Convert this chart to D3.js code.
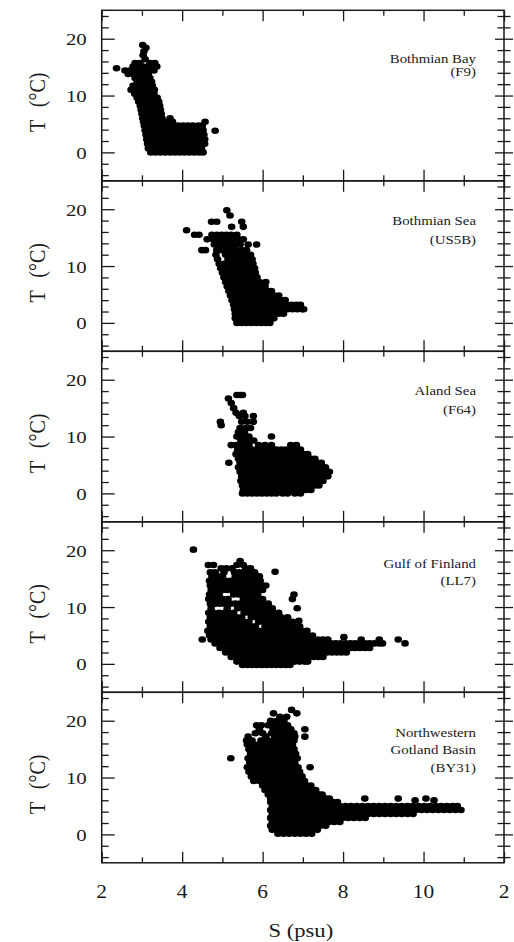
<!DOCTYPE html>
<html>
<head>
<meta charset="utf-8">
<script src="https://cdn.jsdelivr.net/npm/d3@7"></script>
<style>
  html, body { margin: 0; padding: 0; background: #fff; }
  svg { display: block; }
</style>
</head>
<body>
<svg id="chart" width="514" height="942"></svg>
<script>
// ---- axes ----
const sDomain = [2, 12];
const tDomain = [-5, 25];
const sMinorTicks = [3, 5, 7, 9, 11];
const sMajorTicks = [2, 4, 6, 8, 10, 12];
const sTickLabels = ["2", "4", "6", "8", "10", "2"];
const tMinorTicks = [-4, -2, 2, 4, 6, 8, 12, 14, 16, 18, 22, 24];
const tMajorTicks = [0, 10, 20];
const tTickLabels = ["0", "10", "20"];
const yTitle = "T (°C)";
const xTitle = "S (psu)";

// ---- stations ----
const stationNames = [
  ["Bothmian Bay", "(F9)"],
  ["Bothmian Sea", "(US5B)"],
  ["Aland Sea", "(F64)"],
  ["Gulf of Finland", "(LL7)"],
  ["Northwestern", "Gotland Basin", "(BY31)"]
];

// ---- observations: each row is [T (°C), S (psu), S (psu), ...] ----
const bothnianBay = [
  [18.9, 3.02],
  [18.4, 3.10],
  [17.8, 3.05],
  [17.1, 3.03],
  [16.4, 3.08],
  [15.7, 2.83, 2.95, 3.20, 3.32],
  [15.1, 2.78, 2.90, 3.02, 3.14, 3.27, 3.37],
  [14.8, 2.37],
  [14.4, 2.58, 2.70, 2.82, 2.94, 3.06, 3.18, 3.30],
  [13.8, 2.66, 2.79, 2.92, 3.04, 3.16],
  [13.1, 2.83, 2.96, 3.08, 3.20],
  [12.4, 2.88, 3.00, 3.12, 3.24],
  [11.7, 2.78, 2.90, 3.02, 3.14, 3.26],
  [11.0, 2.73, 2.85, 2.97, 3.09, 3.21, 3.31],
  [10.3, 2.82, 2.94, 3.06, 3.18, 3.30],
  [9.6, 2.88, 3.00, 3.12, 3.24, 3.38],
  [8.9, 2.92, 3.04, 3.16, 3.28, 3.42],
  [8.2, 2.96, 3.08, 3.20, 3.32, 3.44],
  [7.5, 2.98, 3.10, 3.22, 3.34, 3.46],
  [6.8, 3.00, 3.12, 3.24, 3.36, 3.48],
  [6.0, 3.02, 3.14, 3.26, 3.38, 3.50, 3.70],
  [5.4, 3.04, 3.16, 3.28, 3.40, 3.52, 3.64, 3.76, 4.57],
  [4.7, 3.06, 3.18, 3.30, 3.42, 3.54, 3.66, 3.78, 3.90, 4.02, 4.14, 4.26, 4.40, 4.50],
  [3.9, 3.08, 3.20, 3.32, 3.44, 3.56, 3.68, 3.80, 3.92, 4.04, 4.16, 4.28, 4.40, 4.52],
  [3.8, 4.82],
  [3.1, 3.10, 3.22, 3.34, 3.46, 3.58, 3.70, 3.82, 3.94, 4.06, 4.18, 4.30, 4.42, 4.54],
  [2.3, 3.12, 3.24, 3.36, 3.48, 3.60, 3.72, 3.84, 3.96, 4.08, 4.20, 4.32, 4.44, 4.56],
  [1.5, 3.14, 3.26, 3.38, 3.50, 3.62, 3.74, 3.86, 3.98, 4.10, 4.22, 4.34, 4.46, 4.56],
  [0.7, 3.16, 3.28, 3.40, 3.52, 3.64, 3.76, 3.88, 4.00, 4.12, 4.24, 4.36, 4.48],
  [0.0, 3.22, 3.34, 3.46, 3.58, 3.70, 3.82, 3.94, 4.06, 4.18, 4.30, 4.42, 4.52]
];

const bothnianSea = [
  [19.8, 5.11],
  [18.9, 5.19],
  [17.8, 4.73, 4.86, 5.48],
  [16.9, 5.23, 5.52],
  [16.3, 4.11],
  [15.5, 4.31, 4.42, 4.74, 4.86, 4.98, 5.10, 5.22, 5.36],
  [14.7, 4.62, 4.76, 4.90, 5.02, 5.14, 5.26, 5.40, 5.52],
  [13.8, 4.80, 4.94, 5.06, 5.18, 5.30, 5.44, 5.64, 5.85],
  [12.8, 4.49, 4.58, 4.86, 4.98, 5.10, 5.22, 5.34, 5.48, 5.60],
  [12.0, 4.84, 5.08, 5.20, 5.32, 5.44, 5.58, 5.70],
  [11.2, 4.88, 5.14, 5.26, 5.38, 5.50, 5.62, 5.74],
  [10.4, 4.92, 5.04, 5.16, 5.28, 5.40, 5.52, 5.64, 5.76],
  [9.6, 4.96, 5.08, 5.20, 5.32, 5.44, 5.56, 5.68, 5.80],
  [8.8, 5.00, 5.12, 5.24, 5.36, 5.48, 5.60, 5.72, 5.82],
  [8.0, 5.04, 5.16, 5.28, 5.40, 5.52, 5.64, 5.76, 5.86],
  [7.2, 5.08, 5.20, 5.32, 5.44, 5.56, 5.68, 5.80, 5.92, 6.08],
  [6.4, 5.12, 5.24, 5.36, 5.48, 5.60, 5.72, 5.84, 5.96, 6.06],
  [5.6, 5.16, 5.28, 5.40, 5.52, 5.64, 5.76, 5.88, 6.00, 6.12, 6.22],
  [4.8, 5.20, 5.32, 5.44, 5.56, 5.68, 5.80, 5.92, 6.04, 6.16, 6.28, 6.40],
  [4.0, 5.24, 5.36, 5.48, 5.60, 5.72, 5.84, 5.96, 6.08, 6.20, 6.32, 6.44, 6.56],
  [3.2, 5.28, 5.40, 5.52, 5.64, 5.76, 5.88, 6.00, 6.12, 6.24, 6.36, 6.48, 6.60, 6.72, 6.84, 6.94],
  [2.4, 5.30, 5.42, 5.54, 5.66, 5.78, 5.90, 6.02, 6.14, 6.26, 6.38, 6.50, 6.62, 6.74, 6.86, 6.98, 7.02],
  [1.6, 5.32, 5.44, 5.56, 5.68, 5.80, 5.92, 6.04, 6.16, 6.28, 6.40, 6.52],
  [0.8, 5.32, 5.44, 5.56, 5.68, 5.80, 5.92, 6.04, 6.16, 6.28],
  [0.0, 5.36, 5.48, 5.60, 5.72, 5.84, 5.96, 6.08, 6.18]
];

const alandSea = [
  [17.3, 5.36, 5.44, 5.50],
  [16.7, 5.15],
  [15.9, 5.22],
  [15.0, 5.28],
  [14.2, 5.34, 5.52],
  [13.6, 5.42, 5.56, 5.77],
  [12.6, 4.95, 5.48, 5.62, 5.77],
  [12.0, 4.97],
  [11.5, 5.44, 5.58, 5.70],
  [10.8, 5.40, 5.55],
  [10.0, 5.36, 5.50, 5.66, 6.22],
  [9.3, 5.46, 5.60, 5.78],
  [8.5, 5.22, 5.34, 5.50, 5.66, 5.90, 6.06, 6.22, 6.70, 6.84],
  [7.7, 5.38, 5.50, 5.62, 5.74, 5.86, 5.98, 6.10, 6.22, 6.34, 6.46, 6.58, 6.70, 6.82, 6.94],
  [6.9, 5.34, 5.46, 5.58, 5.70, 5.82, 5.94, 6.06, 6.18, 6.30, 6.42, 6.54, 6.66, 6.78, 6.90, 7.02, 7.12],
  [6.1, 5.40, 5.52, 5.64, 5.76, 5.88, 6.00, 6.12, 6.24, 6.36, 6.48, 6.60, 6.72, 6.84, 6.96, 7.08, 7.20, 7.30],
  [5.4, 5.16, 5.44, 5.56, 5.68, 5.80, 5.92, 6.04, 6.16, 6.28, 6.40, 6.52, 6.64, 6.76, 6.88, 7.00, 7.12, 7.24, 7.36, 7.46],
  [4.6, 5.40, 5.52, 5.64, 5.76, 5.88, 6.00, 6.12, 6.24, 6.36, 6.48, 6.60, 6.72, 6.84, 6.96, 7.08, 7.20, 7.32, 7.44, 7.56],
  [3.8, 5.44, 5.56, 5.68, 5.80, 5.92, 6.04, 6.16, 6.28, 6.40, 6.52, 6.64, 6.76, 6.88, 7.00, 7.12, 7.24, 7.36, 7.48, 7.60, 7.66],
  [3.0, 5.48, 5.60, 5.72, 5.84, 5.96, 6.08, 6.20, 6.32, 6.44, 6.56, 6.68, 6.80, 6.92, 7.04, 7.16, 7.28, 7.40, 7.52, 7.62],
  [2.2, 5.46, 5.58, 5.70, 5.82, 5.94, 6.06, 6.18, 6.30, 6.42, 6.54, 6.66, 6.78, 6.90, 7.02, 7.14, 7.26, 7.38, 7.50],
  [1.4, 5.50, 5.62, 5.74, 5.86, 5.98, 6.10, 6.22, 6.34, 6.46, 6.58, 6.70, 6.82, 6.94, 7.06, 7.18, 7.30, 7.40],
  [0.6, 5.52, 5.64, 5.76, 5.88, 6.00, 6.12, 6.24, 6.36, 6.48, 6.60, 6.72, 6.84, 6.96, 7.08, 7.20],
  [0.0, 5.50, 5.62, 5.74, 5.86, 5.98, 6.10, 6.22, 6.34, 6.50, 6.62, 6.80, 6.94]
];

const gulfOfFinland = [
  [20.1, 4.28],
  [18.1, 5.44],
  [17.4, 4.65, 4.78, 5.36, 5.52],
  [16.8, 4.97, 5.10, 5.24, 5.58, 5.70],
  [16.2, 6.31],
  [16.1, 4.70, 4.82, 5.04, 5.30, 5.42, 5.54, 5.66, 5.80],
  [15.4, 4.74, 4.88, 5.00, 5.32, 5.44, 5.56, 5.68, 5.80, 5.92],
  [14.6, 4.68, 4.80, 4.94, 5.08, 5.20, 5.34, 5.46, 5.58, 5.70, 5.82, 5.94],
  [13.8, 4.70, 4.82, 4.96, 5.08, 5.22, 5.36, 5.48, 5.60, 5.72, 5.84, 5.98, 6.08],
  [13.0, 4.72, 4.86, 5.00, 5.12, 5.24, 5.36, 5.50, 5.62, 5.74, 5.86, 6.00],
  [12.2, 4.68, 4.80, 4.92, 5.28, 5.40, 5.52, 5.64, 5.76, 5.88, 6.78],
  [11.4, 4.66, 4.78, 4.90, 5.02, 5.14, 5.52, 5.64, 5.76, 5.88, 6.00, 6.74],
  [10.6, 4.70, 4.82, 4.94, 5.06, 5.20, 5.32, 5.44, 5.58, 5.70, 5.86, 6.00, 6.14],
  [9.8, 4.72, 5.12, 5.38, 5.50, 5.62, 5.74, 5.86, 5.98, 6.10, 6.24, 6.86],
  [9.0, 4.66, 4.78, 4.92, 5.04, 5.16, 5.28, 5.54, 5.66, 5.78, 5.90, 6.02, 6.14, 6.28, 6.40],
  [8.2, 4.70, 4.84, 4.98, 5.10, 5.24, 5.36, 5.48, 5.72, 5.84, 5.96, 6.10, 6.22, 6.34, 6.46, 6.62],
  [7.6, 6.90],
  [7.4, 4.66, 4.78, 4.92, 5.04, 5.18, 5.30, 5.42, 5.54, 5.66, 5.90, 6.02, 6.14, 6.26, 6.38, 6.50, 6.62, 6.74],
  [6.6, 4.70, 4.82, 4.96, 5.08, 5.22, 5.34, 5.46, 5.58, 5.70, 5.82, 6.06, 6.20, 6.32, 6.44, 6.56, 6.68, 6.80, 6.92],
  [5.8, 4.64, 4.76, 4.88, 5.00, 5.14, 5.26, 5.38, 5.52, 5.64, 5.76, 5.90, 6.02, 6.14, 6.26, 6.38, 6.50, 6.62, 6.74, 6.86, 6.98, 7.10],
  [5.0, 4.68, 4.80, 4.92, 5.06, 5.18, 5.30, 5.42, 5.54, 5.66, 5.78, 5.90, 6.04, 6.16, 6.28, 6.40, 6.52, 6.64, 6.76, 6.88, 7.00, 7.12, 7.24],
  [4.7, 8.02],
  [4.3, 4.50, 4.72, 4.84, 4.96, 5.08, 5.20, 5.34, 5.46, 5.58, 5.70, 5.82, 5.94, 6.06, 6.18, 6.30, 6.42, 6.54, 6.66, 6.78, 6.90, 7.02, 7.14, 7.26, 7.38, 7.50, 7.62, 8.45, 8.90, 9.37],
  [3.6, 4.82, 4.94, 5.06, 5.18, 5.30, 5.42, 5.54, 5.66, 5.78, 5.90, 6.02, 6.14, 6.26, 6.38, 6.50, 6.62, 6.74, 6.86, 6.98, 7.10, 7.22, 7.34, 7.46, 7.58, 7.70, 7.82, 7.94, 8.06, 8.18, 8.30, 8.42, 8.54, 8.66, 8.78, 8.90, 8.98, 9.54],
  [2.8, 4.94, 5.06, 5.18, 5.30, 5.42, 5.54, 5.66, 5.78, 5.90, 6.02, 6.14, 6.26, 6.38, 6.50, 6.62, 6.74, 6.86, 6.98, 7.10, 7.22, 7.34, 7.46, 7.58, 7.70, 7.82, 7.94, 8.06, 8.18, 8.30, 8.42, 8.54, 8.66],
  [2.0, 5.08, 5.20, 5.32, 5.44, 5.56, 5.68, 5.80, 5.92, 6.04, 6.16, 6.28, 6.40, 6.52, 6.64, 6.76, 6.88, 7.00, 7.12, 7.24, 7.36, 7.48, 7.60, 7.72, 7.84, 7.96, 8.08],
  [1.2, 5.22, 5.34, 5.46, 5.58, 5.70, 5.82, 5.94, 6.06, 6.18, 6.30, 6.42, 6.54, 6.66, 6.78, 6.90, 7.02, 7.14, 7.26, 7.38, 7.50],
  [0.4, 5.36, 5.48, 5.60, 5.72, 5.84, 5.96, 6.08, 6.20, 6.32, 6.44, 6.56, 6.68, 6.80, 6.92, 7.04, 7.12],
  [-0.2, 5.50, 5.62, 5.74, 5.86, 5.98, 6.10, 6.22, 6.34, 6.46, 6.58, 6.68]
];

const gotlandBasin = [
  [21.9, 6.72],
  [21.3, 6.27, 6.85],
  [20.7, 6.43, 6.60],
  [20.0, 6.20, 6.36, 6.53],
  [19.2, 5.85, 5.97, 6.14, 6.30, 6.46, 6.62],
  [18.5, 5.92, 6.26, 6.40, 6.58, 6.70, 7.05],
  [17.8, 5.82, 6.00, 6.22, 6.36, 6.50, 6.64, 6.78],
  [17.2, 5.64, 6.08, 6.30, 6.42, 6.56, 6.68, 6.80, 7.05],
  [16.5, 5.60, 5.74, 5.96, 6.12, 6.26, 6.40, 6.54, 6.66, 6.78],
  [15.8, 5.62, 5.76, 5.90, 6.04, 6.18, 6.32, 6.46, 6.60, 6.74],
  [15.0, 5.66, 5.80, 5.94, 6.08, 6.22, 6.36, 6.50, 6.64, 6.78],
  [14.2, 5.70, 5.84, 5.98, 6.12, 6.26, 6.40, 6.54, 6.68, 6.82],
  [13.4, 5.21, 5.64, 5.78, 5.92, 6.06, 6.20, 6.34, 6.48, 6.62, 6.76, 6.86],
  [12.6, 5.68, 5.82, 5.96, 6.10, 6.24, 6.38, 6.52, 6.66, 6.80],
  [11.8, 5.62, 5.76, 5.90, 6.04, 6.18, 6.32, 6.46, 6.60, 6.74, 6.88, 7.18],
  [11.0, 5.66, 5.80, 5.94, 6.08, 6.22, 6.36, 6.50, 6.64, 6.78, 6.92],
  [10.2, 5.72, 5.86, 6.00, 6.14, 6.28, 6.42, 6.56, 6.70, 6.84, 6.98],
  [9.4, 5.78, 5.92, 6.06, 6.20, 6.34, 6.48, 6.62, 6.76, 6.90, 7.04],
  [8.6, 6.00, 6.12, 6.26, 6.40, 6.54, 6.68, 6.82, 6.96, 7.10, 7.20],
  [7.8, 6.06, 6.20, 6.34, 6.48, 6.62, 6.76, 6.90, 7.04, 7.18, 7.32],
  [7.0, 6.14, 6.28, 6.42, 6.56, 6.70, 6.84, 6.98, 7.12, 7.26, 7.40, 7.48],
  [6.3, 6.20, 6.32, 6.46, 6.60, 6.74, 6.88, 7.02, 7.16, 7.30, 7.44, 7.58, 7.66, 8.54, 9.37, 10.06],
  [6.0, 9.79, 10.26],
  [5.7, 6.20, 6.34, 6.48, 6.62, 6.76, 6.90, 7.04, 7.18, 7.32, 7.46, 7.60, 7.74, 7.86],
  [5.0, 6.24, 6.38, 6.52, 6.66, 6.80, 6.94, 7.08, 7.22, 7.36, 7.50, 7.64, 7.78, 7.92, 8.06, 8.20, 8.34, 8.48, 8.62, 8.76, 8.90, 9.04, 9.18, 9.32, 9.46, 9.60, 9.74, 9.88, 10.02, 10.16, 10.30, 10.44, 10.58, 10.72, 10.84],
  [4.3, 6.20, 6.31, 6.45, 6.59, 6.73, 6.87, 7.01, 7.15, 7.29, 7.43, 7.57, 7.71, 7.85, 7.99, 8.13, 8.27, 8.41, 8.55, 8.69, 8.83, 8.97, 9.11, 9.25, 9.39, 9.53, 9.67, 9.81, 9.95, 10.09, 10.23, 10.37, 10.51, 10.65, 10.79, 10.93],
  [3.6, 6.24, 6.38, 6.52, 6.66, 6.80, 6.94, 7.08, 7.22, 7.36, 7.50, 7.64, 7.78, 7.92, 8.06, 8.20, 8.34, 8.48, 8.62, 8.76, 8.90, 9.04, 9.18, 9.32, 9.46, 9.60, 9.74],
  [2.9, 6.20, 6.31, 6.45, 6.59, 6.73, 6.87, 7.01, 7.15, 7.29, 7.43, 7.57, 7.71, 7.85, 7.99, 8.13, 8.27, 8.41, 8.55],
  [2.2, 6.24, 6.38, 6.52, 6.66, 6.80, 6.94, 7.08, 7.22, 7.36, 7.50, 7.64, 7.78, 7.92],
  [1.5, 6.20, 6.31, 6.45, 6.59, 6.73, 6.87, 7.01, 7.15, 7.29, 7.43, 7.57],
  [0.8, 6.24, 6.38, 6.52, 6.66, 6.80, 6.94, 7.08, 7.22, 7.36],
  [0.1, 6.38, 6.52, 6.66, 6.80, 6.94, 7.08, 7.22]
];

const stationRows = [bothnianBay, bothnianSea, alandSea, gulfOfFinland, gotlandBasin];

// ---- layout ----
const plotLeft = 101.7, plotRight = 504;
const firstTop = 10.3, panelH = 170.5;
const labelRight = 476;
const labelLines = [[53, 65.5], [44.5, 62.8], [44, 62.7], [46.5, 63.5], [44.6, 61.5, 79.6]];
const widen = 1.19;   // type is set slightly wide
const ink = "#1a1a1a";
const serif = "'Liberation Serif', 'Times New Roman', serif";

const svg = d3.select("#chart").attr("font-family", serif);
const x = d3.scaleLinear().domain(sDomain).range([plotLeft, plotRight]);

function tickAxis(g, axis, tx, ty) {
  g.append("g")
    .attr("transform", `translate(${tx},${ty})`)
    .call(axis.tickFormat("").tickSizeOuter(0))
    .call(a => a.select(".domain").remove())
    .call(a => a.selectAll("text").remove())
    .call(a => a.selectAll("line").attr("stroke", ink).attr("stroke-width", 1.3));
}

function label(sel) {
  return sel.attr("font-family", serif).attr("fill", ink);
}

stationRows.forEach((rows, i) => {
  const top = firstTop + i * panelH;
  const bottom = top + panelH;
  const y = d3.scaleLinear().domain(tDomain).range([bottom, top]);
  const points = rows.flatMap(([t, ...ss]) => ss.map(s => ({ s, t })));
  const g = svg.append("g").attr("class", "panel");

  // observations
  g.append("g").selectAll("ellipse").data(points).join("ellipse")
    .attr("cx", d => x(d.s))
    .attr("cy", d => y(d.t))
    .attr("rx", 3.8)
    .attr("ry", 3.3)
    .attr("fill", "#000");

  // frame
  g.append("rect")
    .attr("x", plotLeft).attr("y", top)
    .attr("width", plotRight - plotLeft).attr("height", panelH)
    .attr("fill", "none").attr("stroke", ink).attr("stroke-width", 1.5);

  // left ticks point inward
  tickAxis(g, d3.axisRight(y).tickValues(tMajorTicks).tickSize(13), plotLeft, 0);
  tickAxis(g, d3.axisRight(y).tickValues(tMinorTicks).tickSize(7), plotLeft, 0);
  // right ticks cross the frame
  tickAxis(g, d3.axisRight(y).tickValues(tMajorTicks).tickSize(9), plotRight, 0);
  tickAxis(g, d3.axisLeft(y).tickValues(tMajorTicks).tickSize(9), plotRight, 0);
  tickAxis(g, d3.axisRight(y).tickValues(tMinorTicks).tickSize(6.5), plotRight, 0);
  tickAxis(g, d3.axisLeft(y).tickValues(tMinorTicks).tickSize(6.5), plotRight, 0);
  // top and bottom ticks point inward
  tickAxis(g, d3.axisBottom(x).tickValues(sMajorTicks).tickSize(11), 0, top);
  tickAxis(g, d3.axisBottom(x).tickValues(sMinorTicks).tickSize(5.5), 0, top);
  tickAxis(g, d3.axisTop(x).tickValues(sMajorTicks).tickSize(11), 0, bottom);
  tickAxis(g, d3.axisTop(x).tickValues(sMinorTicks).tickSize(5.5), 0, bottom);

  // temperature tick labels
  label(g.append("g").selectAll("text").data(tMajorTicks).join("text"))
    .attr("transform", v => `translate(86.7,${y(v) + 6.5}) scale(${widen},1)`)
    .attr("text-anchor", "end")
    .attr("font-size", 17.5)
    .text((v, k) => tTickLabels[k]);

  // axis title
  label(g.append("text"))
    .attr("transform", `translate(45,${(top + bottom) / 2 + 6.8}) scale(${widen},1) rotate(-90)`)
    .attr("text-anchor", "middle")
    .attr("font-size", 20)
    .style("word-spacing", "8px")
    .text(yTitle);

  // station label
  label(g.append("g").selectAll("text").data(stationNames[i]).join("text"))
    .attr("transform", (d, k) => `translate(${labelRight},${top + labelLines[i][k]}) scale(${widen},1)`)
    .attr("text-anchor", "end")
    .attr("font-size", 12.5)
    .text(d => d);

  // salinity tick labels under the last panel
  if (i === stationRows.length - 1) {
    label(svg.append("g").selectAll("text").data(sMajorTicks).join("text"))
      .attr("transform", v => `translate(${x(v)},897.5) scale(${widen},1)`)
      .attr("text-anchor", "middle")
      .attr("font-size", 18)
      .text((v, k) => sTickLabels[k]);
    label(svg.append("text"))
      .attr("transform", `translate(${(plotLeft + plotRight) / 2 - 2},936.5) scale(${widen},1)`)
      .attr("text-anchor", "middle")
      .attr("font-size", 19)
      .text(xTitle);
  }
});
</script>
</body>
</html>
